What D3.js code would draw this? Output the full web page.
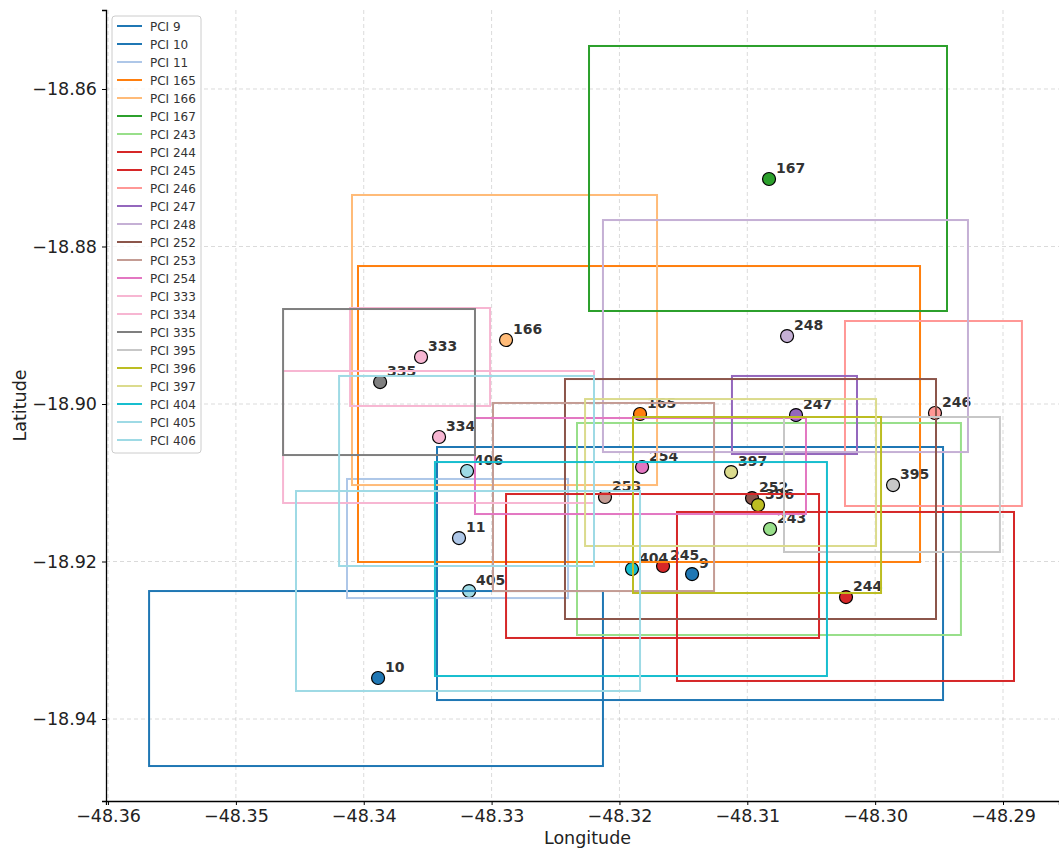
<!DOCTYPE html>
<html>
<head>
<meta charset="utf-8">
<script src="https://d3js.org/d3.v7.min.js"></script>
<style>
  body { margin: 0; background: #fff; }
  svg { font-family: "DejaVu Sans", sans-serif; }
</style>
</head>
<body>
<div class="chart"></div>
<script>
// cells, in legend order
var pci = [9, 10, 11, 165, 166, 167, 243, 244, 245, 246, 247, 248, 252, 253, 254, 333, 334, 335, 395, 396, 397, 404, 405, 406];
var colors = ["#1f77b4", "#1f77b4", "#aec7e8", "#ff7f0e", "#ffbb78", "#2ca02c", "#98df8a", "#d62728", "#d62728", "#ff9896",
  "#9467bd", "#c5b0d5", "#8c564b", "#c49c94", "#e377c2", "#f7b6d2", "#f7b6d2", "#7f7f7f", "#c7c7c7", "#bcbd22",
  "#dbdb8d", "#17becf", "#9edae5", "#9edae5"];

// site position
var lon = [-48.31432, -48.33888, -48.33255, -48.31839, -48.32887, -48.30830, -48.30822, -48.30228, -48.31659, -48.29532,
  -48.30619, -48.30689, -48.30963, -48.32113, -48.31823, -48.33552, -48.33411, -48.33872, -48.29860, -48.30916,
  -48.31127, -48.31902, -48.33176, -48.33192];
var lat = [-18.92159, -18.93479, -18.91702, -18.90127, -18.89187, -18.87143, -18.91587, -18.92451, -18.92057, -18.90114,
  -18.90140, -18.89137, -18.91194, -18.91181, -18.90800, -18.89403, -18.90419, -18.89721, -18.91029, -18.91283,
  -18.90864, -18.92095, -18.92375, -18.90851];

// coverage boxes
var lonMin = [-48.33427, -48.35679, -48.34131, -48.34045, -48.34092, -48.32238, -48.32332, -48.31550, -48.32887, -48.30236,
  -48.31120, -48.32129, -48.32426, -48.32989, -48.33130, -48.34107, -48.34631, -48.34631, -48.30713, -48.31894,
  -48.32269, -48.33443, -48.34530, -48.34193];
var lonMax = [-48.29469, -48.32129, -48.32402, -48.29649, -48.31706, -48.29438, -48.29329, -48.28914, -48.30439, -48.28852,
  -48.30142, -48.29274, -48.29524, -48.31260, -48.30541, -48.33012, -48.32199, -48.33130, -48.29024, -48.29954,
  -48.29993, -48.30377, -48.31839, -48.32199];
var latMin = [-18.93759, -18.94597, -18.92464, -18.92006, -18.91029, -18.88819, -18.92933, -18.93517, -18.92971, -18.91295,
  -18.90635, -18.90610, -18.92730, -18.92375, -18.91397, -18.90025, -18.91257, -18.90648, -18.91879, -18.92400,
  -18.91803, -18.93454, -18.93644, -18.92057];
var latMax = [-18.90546, -18.92375, -18.90952, -18.88248, -18.87346, -18.85454, -18.90241, -18.91371, -18.91143, -18.88946,
  -18.89644, -18.87664, -18.89683, -18.89987, -18.90178, -18.88781, -18.89581, -18.88794, -18.90165, -18.90165,
  -18.89937, -18.90737, -18.91105, -18.89644];

var xTicks = [-48.36, -48.35, -48.34, -48.33, -48.32, -48.31, -48.30, -48.29];
var yTicks = [-18.94, -18.92, -18.90, -18.88, -18.86];

var W = 1059, H = 848;
var L = 106, R = 1059, T = 10, B = 801;

var cells = pci.map(function(p, i) {
  return { pci: p, color: colors[i], lon: lon[i], lat: lat[i],
    x0: lonMin[i], x1: lonMax[i], y0: latMin[i], y1: latMax[i] };
});

var svg = d3.select(".chart").append("svg")
  .attr("width", W).attr("height", H);

var x = d3.scaleLinear().domain([-48.36016, -48.28562]).range([L, R]);
var y = d3.scaleLinear().domain([-18.95041, -18.84997]).range([B, T]);

// grid
svg.append("g").selectAll("line").data(xTicks).enter().append("line")
  .attr("x1", function(d) { return x(d); }).attr("x2", function(d) { return x(d); })
  .attr("y1", T).attr("y2", B)
  .attr("stroke", "#b0b0b0").attr("stroke-opacity", 0.6)
  .attr("stroke-width", 0.8).attr("stroke-dasharray", "4,3");
svg.append("g").selectAll("line").data(yTicks).enter().append("line")
  .attr("x1", L).attr("x2", R)
  .attr("y1", function(d) { return y(d); }).attr("y2", function(d) { return y(d); })
  .attr("stroke", "#b0b0b0").attr("stroke-opacity", 0.6)
  .attr("stroke-width", 0.8).attr("stroke-dasharray", "4,3");

// sites
svg.append("g").selectAll("circle").data(cells).enter().append("circle")
  .attr("cx", function(d) { return x(d.lon); })
  .attr("cy", function(d) { return y(d.lat); })
  .attr("r", 6.5)
  .attr("fill", function(d) { return d.color; })
  .attr("stroke", "#000").attr("stroke-width", 1.2);

svg.append("g").selectAll("text").data(cells).enter().append("text")
  .attr("x", function(d) { return x(d.lon) + 7; })
  .attr("y", function(d) { return y(d.lat) - 6; })
  .attr("font-size", 14).attr("font-weight", "bold").attr("fill", "#333")
  .text(function(d) { return d.pci; });

// boxes on top
svg.append("g").selectAll("rect").data(cells).enter().append("rect")
  .attr("x", function(d) { return x(d.x0); })
  .attr("y", function(d) { return y(d.y1); })
  .attr("width", function(d) { return x(d.x1) - x(d.x0); })
  .attr("height", function(d) { return y(d.y0) - y(d.y1); })
  .attr("fill", "none")
  .attr("stroke", function(d) { return d.color; })
  .attr("stroke-width", 2);

// axes
var xAxis = svg.append("g").attr("transform", "translate(0," + B + ")")
  .call(d3.axisBottom(x).tickValues(xTicks).tickFormat(d3.format(".2f")).tickSizeOuter(0).tickSize(4).tickPadding(5));
var yAxis = svg.append("g").attr("transform", "translate(" + L + ",0)")
  .call(d3.axisLeft(y).tickValues(yTicks).tickFormat(d3.format(".2f")).tickSizeOuter(0).tickSize(4).tickPadding(5));
[xAxis, yAxis].forEach(function(a) {
  a.selectAll("text").attr("font-size", 17.5).attr("fill", "#222").attr("font-family", "DejaVu Sans");
  a.select(".domain").attr("stroke", "#000").attr("stroke-width", 1.3);
  a.selectAll(".tick line").attr("stroke", "#000").attr("stroke-width", 1);
});

svg.append("text").attr("x", (L + R) / 2 + 5).attr("y", 844)
  .attr("text-anchor", "middle").attr("font-size", 17.5).attr("fill", "#222")
  .text("Longitude");
svg.append("text").attr("transform", "translate(26," + ((T + B) / 2) + ") rotate(-90)")
  .attr("text-anchor", "middle").attr("font-size", 17.5).attr("fill", "#222")
  .text("Latitude");

// legend
var lg = svg.append("g").attr("transform", "translate(112,16)");
lg.append("rect").attr("width", 89).attr("height", 437).attr("rx", 3)
  .attr("fill", "#fff").attr("fill-opacity", 0.8)
  .attr("stroke", "#ccc").attr("stroke-width", 1);
var item = lg.selectAll(".item").data(cells).enter().append("g")
  .attr("class", "item")
  .attr("transform", function(d, i) { return "translate(0," + (10 + i * 18) + ")"; });
item.append("line").attr("x1", 5).attr("x2", 30)
  .attr("stroke", function(d) { return d.color; }).attr("stroke-width", 2);
item.append("text").attr("x", 38).attr("y", 4.5)
  .attr("font-size", 12).attr("fill", "#333")
  .text(function(d) { return "PCI " + d.pci; });
</script>
</body>
</html>
